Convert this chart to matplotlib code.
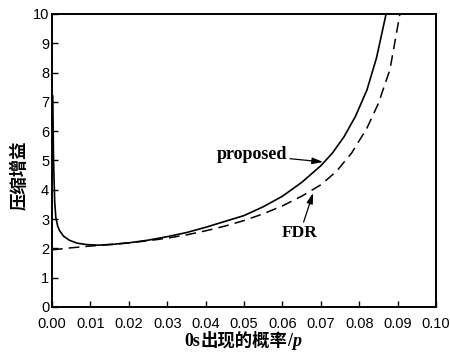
import matplotlib
matplotlib.use("Agg")
import matplotlib.pyplot as plt
from matplotlib.offsetbox import TextArea, HPacker, AnchoredOffsetbox

# proposed scheme (solid)
p_prop = [0.0002, 0.0004, 0.0007, 0.001, 0.0015, 0.002, 0.003, 0.0045, 0.0065,
          0.009, 0.012, 0.016, 0.020, 0.025, 0.030, 0.035, 0.040, 0.045, 0.050,
          0.055, 0.060, 0.065, 0.070, 0.073, 0.076, 0.079, 0.082, 0.0845, 0.087]
g_prop = [7.2, 5.0, 3.6, 3.05, 2.75, 2.6, 2.42, 2.28, 2.18,
          2.13, 2.11, 2.14, 2.19, 2.28, 2.40, 2.54, 2.72, 2.92, 3.12,
          3.42, 3.78, 4.25, 4.82, 5.25, 5.8, 6.5, 7.4, 8.5, 10.0]

# FDR (dashed)
p_fdr = [0.000, 0.005, 0.010, 0.015, 0.020, 0.025, 0.030, 0.035, 0.040, 0.045,
         0.050, 0.055, 0.060, 0.065, 0.070, 0.074, 0.078, 0.082, 0.085, 0.088, 0.0906]
g_fdr = [1.95, 2.02, 2.08, 2.13, 2.19, 2.26, 2.35, 2.46, 2.60, 2.76,
         2.95, 3.18, 3.45, 3.78, 4.17, 4.62, 5.25, 6.1, 6.95, 8.1, 10.0]

xticks = [0.00, 0.01, 0.02, 0.03, 0.04, 0.05, 0.06, 0.07, 0.08, 0.09, 0.10]
yticks = list(range(0, 11))

serif = "Liberation Serif"
cjk = "Noto Sans CJK SC"

fig = plt.figure(figsize=(4.5, 3.58), dpi=100)
ax = fig.add_axes([52 / 450, 1 - 307 / 358, 384 / 450, 293 / 358])

ax.plot(p_prop, g_prop, color="black", lw=1.2)
ax.plot(p_fdr, g_fdr, color="black", lw=1.1, dashes=(7, 4))

ax.set_xlim(0, 0.10)
ax.set_ylim(0, 10)
ax.set_xticks(xticks)
ax.set_xticklabels([f"{v:.2f}" for v in xticks])
ax.set_yticks(yticks)
ax.tick_params(direction="in", length=4, width=1, top=False, right=False,
               labelsize=10.5)
ax.tick_params(axis="x", pad=7)
ax.tick_params(axis="y", pad=2)
for lab in ax.get_xticklabels() + ax.get_yticklabels():
    lab.set_family("Liberation Sans")
for s in ax.spines.values():
    s.set_linewidth(1.4)

ax.set_ylabel("压缩增益", family=cjk, fontweight="bold", fontsize=12.5, va="center")
ax.yaxis.set_label_coords(-0.085, 0.45)

# x label: "0s出现的概率/p"
parts = [
    TextArea("0s", textprops=dict(family=serif, fontweight="bold", fontsize=13)),
    TextArea("出现的概率", textprops=dict(family=cjk, fontweight="bold", fontsize=12.5)),
    TextArea("/", textprops=dict(family=serif, fontweight="bold", fontsize=13)),
    TextArea("p", textprops=dict(family=serif, fontweight="bold", style="italic", fontsize=13)),
]
box = HPacker(children=parts, align="baseline", pad=0, sep=0)
anch = AnchoredOffsetbox(loc="center", child=box, pad=0, frameon=False,
                         bbox_to_anchor=(243 / 450, 1 - 341 / 358),
                         bbox_transform=fig.transFigure, borderpad=0)
fig.add_artist(anch)

arrow = dict(arrowstyle="-|>,head_length=0.5,head_width=0.15", color="black",
             lw=0.9, shrinkA=0, shrinkB=0)
ax.annotate("proposed", xy=(0.0706, 4.95), xytext=(0.0521, 5.19),
            ha="center", va="center", family=serif, fontweight="bold",
            fontsize=13, arrowprops=arrow)
ax.annotate("FDR", xy=(0.068, 3.89), xytext=(0.0646, 2.53),
            ha="center", va="center", family=serif, fontweight="bold",
            fontsize=12.5, arrowprops=arrow)

fig.savefig("out.png", dpi=100)
